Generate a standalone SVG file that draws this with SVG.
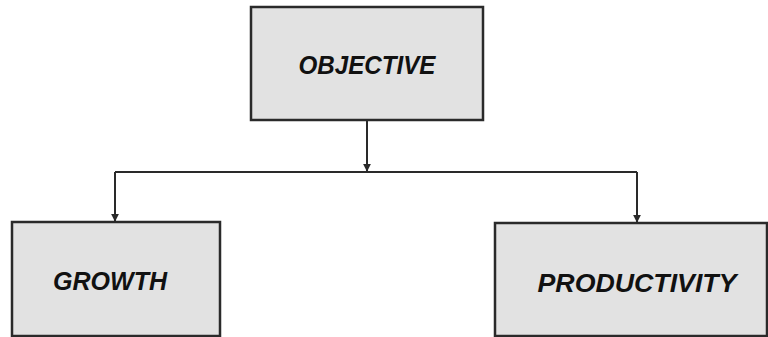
<svg xmlns="http://www.w3.org/2000/svg" width="768" height="337" viewBox="0 0 768 337">
  <style>
    .box { fill: #e2e2e2; stroke: #2a2a2a; stroke-width: 2.5; }
    .label { font-family: "Liberation Sans", Arial, sans-serif; font-weight: bold; font-style: italic; font-size: 25px; fill: #111111; text-anchor: middle; }
    .wire { fill: none; stroke: #2a2a2a; stroke-width: 2; }
  </style>
  <defs>
    <marker id="arrow" viewBox="0 0 10 10" refX="9" refY="5" markerWidth="4" markerHeight="4" orient="auto">
      <path d="M0,0 L10,5 L0,10 z" fill="#2a2a2a"/>
    </marker>
  </defs>

  <rect width="768" height="337" fill="#ffffff"/>

  <g id="objective">
    <rect class="box" x="251" y="7" width="232" height="113"/>
    <text class="label" x="367" y="74" textLength="137" lengthAdjust="spacingAndGlyphs">OBJECTIVE</text>
  </g>

  <g id="growth">
    <rect class="box" x="12" y="222" width="208" height="114"/>
    <text class="label" x="110" y="290" textLength="114" lengthAdjust="spacingAndGlyphs">GROWTH</text>
  </g>

  <g id="productivity">
    <rect class="box" x="495" y="223" width="272" height="113"/>
    <text class="label" x="637" y="292" textLength="199" lengthAdjust="spacingAndGlyphs">PRODUCTIVITY</text>
  </g>

  <g id="connectors">
    <path class="wire" d="M367,120 L367,171" marker-end="url(#arrow)"/>
    <path class="wire" d="M115,172 L637,172"/>
    <path class="wire" d="M115,172 L115,221" marker-end="url(#arrow)"/>
    <path class="wire" d="M637,172 L637,222" marker-end="url(#arrow)"/>
  </g>
</svg>
